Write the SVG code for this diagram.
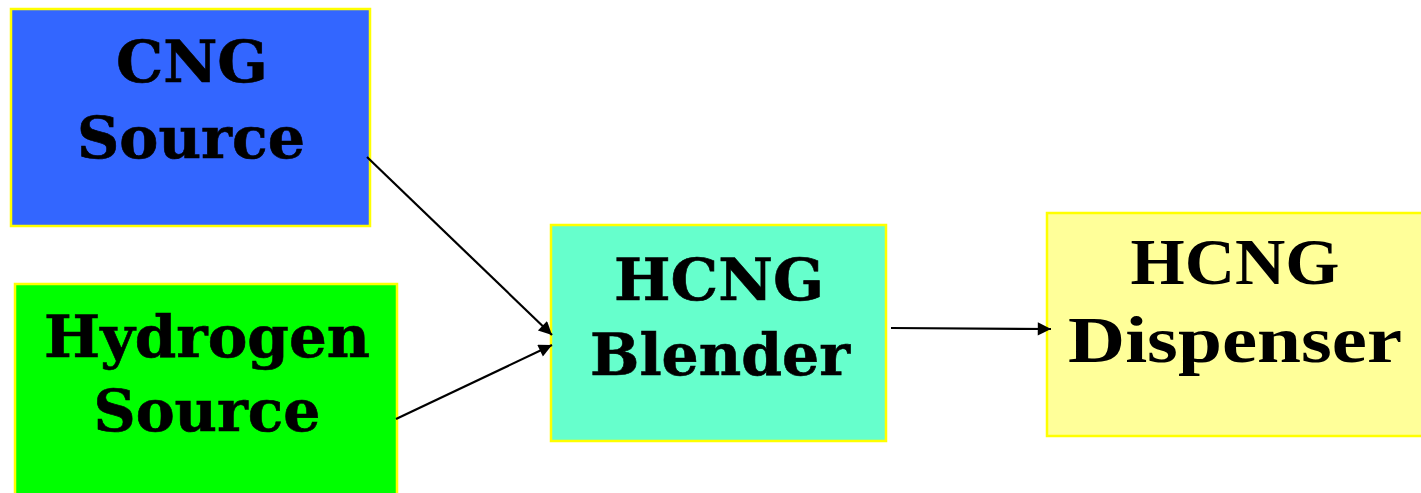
<svg xmlns="http://www.w3.org/2000/svg" width="1421" height="493" viewBox="0 0 1421 493">
<style>
.box{stroke:#FFFF00;stroke-width:2.5}
.t{font-family:"DejaVu Serif","Liberation Serif",serif;font-weight:bold;font-size:58px;fill:#000;stroke:#000;stroke-width:0.6}
.tt{font-family:"Liberation Serif","Times New Roman",serif;font-weight:bold;font-size:66px;fill:#000}
.c{stroke:#000;stroke-width:2.2;fill:none}
</style>
<defs>
<marker id="ah" viewBox="0 0 10 10" refX="10" refY="5" markerWidth="8" markerHeight="6" markerUnits="strokeWidth" orient="auto">
<path d="M0,0 L10,5 L0,10 z" fill="#000"/>
</marker>
</defs>
<rect width="1421" height="493" fill="#fff"/>
<g id="cng">
<rect class="box" x="11" y="9" width="359" height="217" fill="#3366FF"/>
<text class="t" x="192" y="82" text-anchor="middle" textLength="152" lengthAdjust="spacingAndGlyphs">CNG</text>
<text class="t" x="191" y="158" text-anchor="middle" textLength="228" lengthAdjust="spacingAndGlyphs">Source</text>
</g>
<g id="hydrogen">
<rect class="box" x="15" y="284" width="382" height="215" fill="#00FF00"/>
<text class="t" x="207" y="357" text-anchor="middle" textLength="326" lengthAdjust="spacingAndGlyphs">Hydrogen</text>
<text class="t" x="207" y="431" text-anchor="middle" textLength="227" lengthAdjust="spacingAndGlyphs">Source</text>
</g>
<g id="blender">
<rect class="box" x="551" y="225" width="335" height="216" fill="#66FFCC"/>
<text class="t" x="719" y="300" text-anchor="middle" textLength="210" lengthAdjust="spacingAndGlyphs">HCNG</text>
<text class="t" x="720" y="375" text-anchor="middle" textLength="260" lengthAdjust="spacingAndGlyphs">Blender</text>
</g>
<g id="dispenser">
<rect class="box" x="1047" y="213" width="380" height="223" fill="#FFFF99"/>
<text class="tt" x="1235" y="284" text-anchor="middle" textLength="209" lengthAdjust="spacingAndGlyphs">HCNG</text>
<text class="tt" x="1235" y="362" text-anchor="middle" textLength="334" lengthAdjust="spacingAndGlyphs">Dispenser</text>
</g>
<g id="connectors">
<line class="c" x1="367" y1="157" x2="552" y2="335" marker-end="url(#ah)"/>
<line class="c" x1="396" y1="419" x2="552" y2="345" marker-end="url(#ah)"/>
<line class="c" x1="891" y1="328" x2="1051" y2="329" marker-end="url(#ah)"/>
</g>
</svg>
